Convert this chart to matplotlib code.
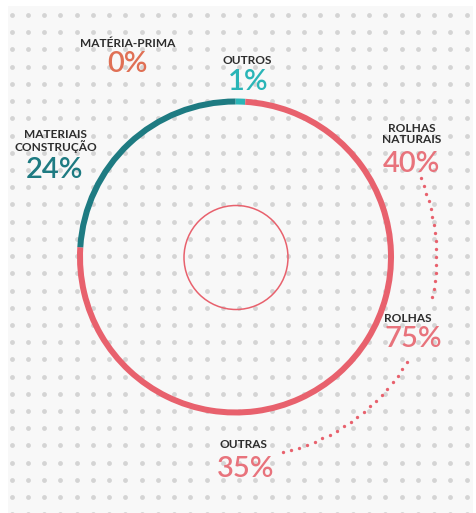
import numpy as np
import matplotlib
matplotlib.use("Agg")
import matplotlib.pyplot as plt
from matplotlib.patches import Wedge, Circle, Rectangle

# ---- data ----
segments = ["OUTROS", "ROLHAS", "MATERIAIS CONSTRUÇÃO", "MATÉRIA-PRIMA"]
shares = [1, 75, 24, 0]
seg_colors = ["#2ab5b7", "#e8616d", "#1e7b82", "#e07055"]
sub_labels = ["ROLHAS\nNATURAIS", "OUTRAS"]
sub_shares = [40, 35]

W, H = 477, 513
fig = plt.figure(figsize=(W / 100, H / 100), dpi=100)
ax = fig.add_axes([0, 0, 1, 1])
ax.set_xlim(0, W)
ax.set_ylim(H, 0)
ax.set_aspect("equal")
ax.axis("off")
fig.patch.set_facecolor("white")

# background panel
ax.add_patch(Rectangle((8, 6), 465, 510, facecolor="#f8f8f8", edgecolor="none", zorder=0))

# dot grid
gx = 11.7 + 16.25 * np.arange(29)
gy = 15 + 17.22 * np.arange(30)
GX, GY = np.meshgrid(gx, gy)
ax.scatter(GX.ravel(), GY.ravel(), s=12, color="#d4d4d4", linewidths=0, zorder=1)

# ring
cx, cy, r, lw = 235.5, 257, 155.5, 6
cum = np.concatenate([[0], np.cumsum(shares)]) / 100.0
for i, (v, c) in enumerate(zip(shares, seg_colors)):
    if v <= 0:
        continue
    t1 = -90 + 360 * cum[i]
    t2 = -90 + 360 * cum[i + 1]
    ax.add_patch(Wedge((cx, cy), r + lw / 2, t1, t2, width=lw, facecolor=c,
                       edgecolor="none", zorder=3))

# inner circle
ax.add_patch(Circle((cx + 0.5, cy + 0.5), 52, fill=False, edgecolor="#e8616d",
                    linewidth=1.1, zorder=3))

# dotted connectors
rc = 201
for a1, a2, n in [(-23, 11.5, 16), (31.5, 76.2, 20)]:
    th = np.radians(np.linspace(a1, a2, n))
    ax.plot(cx + rc * np.cos(th), cy + rc * np.sin(th), linestyle="none",
            marker="o", markersize=2.4, markeredgewidth=0, color="#e8616d", zorder=3)

FAM = ["Lato", "DejaVu Sans"]
lab_kw = dict(ha="center", va="center", color="#2d2d2d", fontsize=8.6,
              fontweight="bold", family=FAM, zorder=5, linespacing=1.05)
pct_kw = dict(ha="center", va="center", fontsize=21, fontweight="semibold",
              family=FAM, zorder=5)

# MATÉRIA-PRIMA
ax.text(127.5, 43, segments[3], **lab_kw)
ax.text(128, 64, f"{shares[3]}%", color=seg_colors[3], **pct_kw)
# OUTROS
ax.text(247, 60, segments[0], **lab_kw)
ax.text(248, 82, f"{shares[0]}%", color=seg_colors[0], **pct_kw)
# MATERIAIS CONSTRUÇÃO
ax.text(55.5, 141, segments[2].replace(" ", "\n"), **lab_kw)
ax.text(55, 170, f"{shares[2]}%", color=seg_colors[2], **pct_kw)
# ROLHAS NATURAIS
ax.text(411.7, 134, sub_labels[0], **lab_kw)
ax.text(411.7, 164, f"{sub_shares[0]}%", color="#e8737c", **pct_kw)
# ROLHAS
ax.text(408, 318, segments[1], **lab_kw)
ax.text(413, 339, f"{shares[1]}%", color="#e8737c", **pct_kw)
# OUTRAS
ax.text(244, 445, sub_labels[1], **lab_kw)
ax.text(245.7, 469, f"{sub_shares[1]}%", color="#e8737c", **pct_kw)

fig.savefig("out.png", dpi=100, facecolor="white")
